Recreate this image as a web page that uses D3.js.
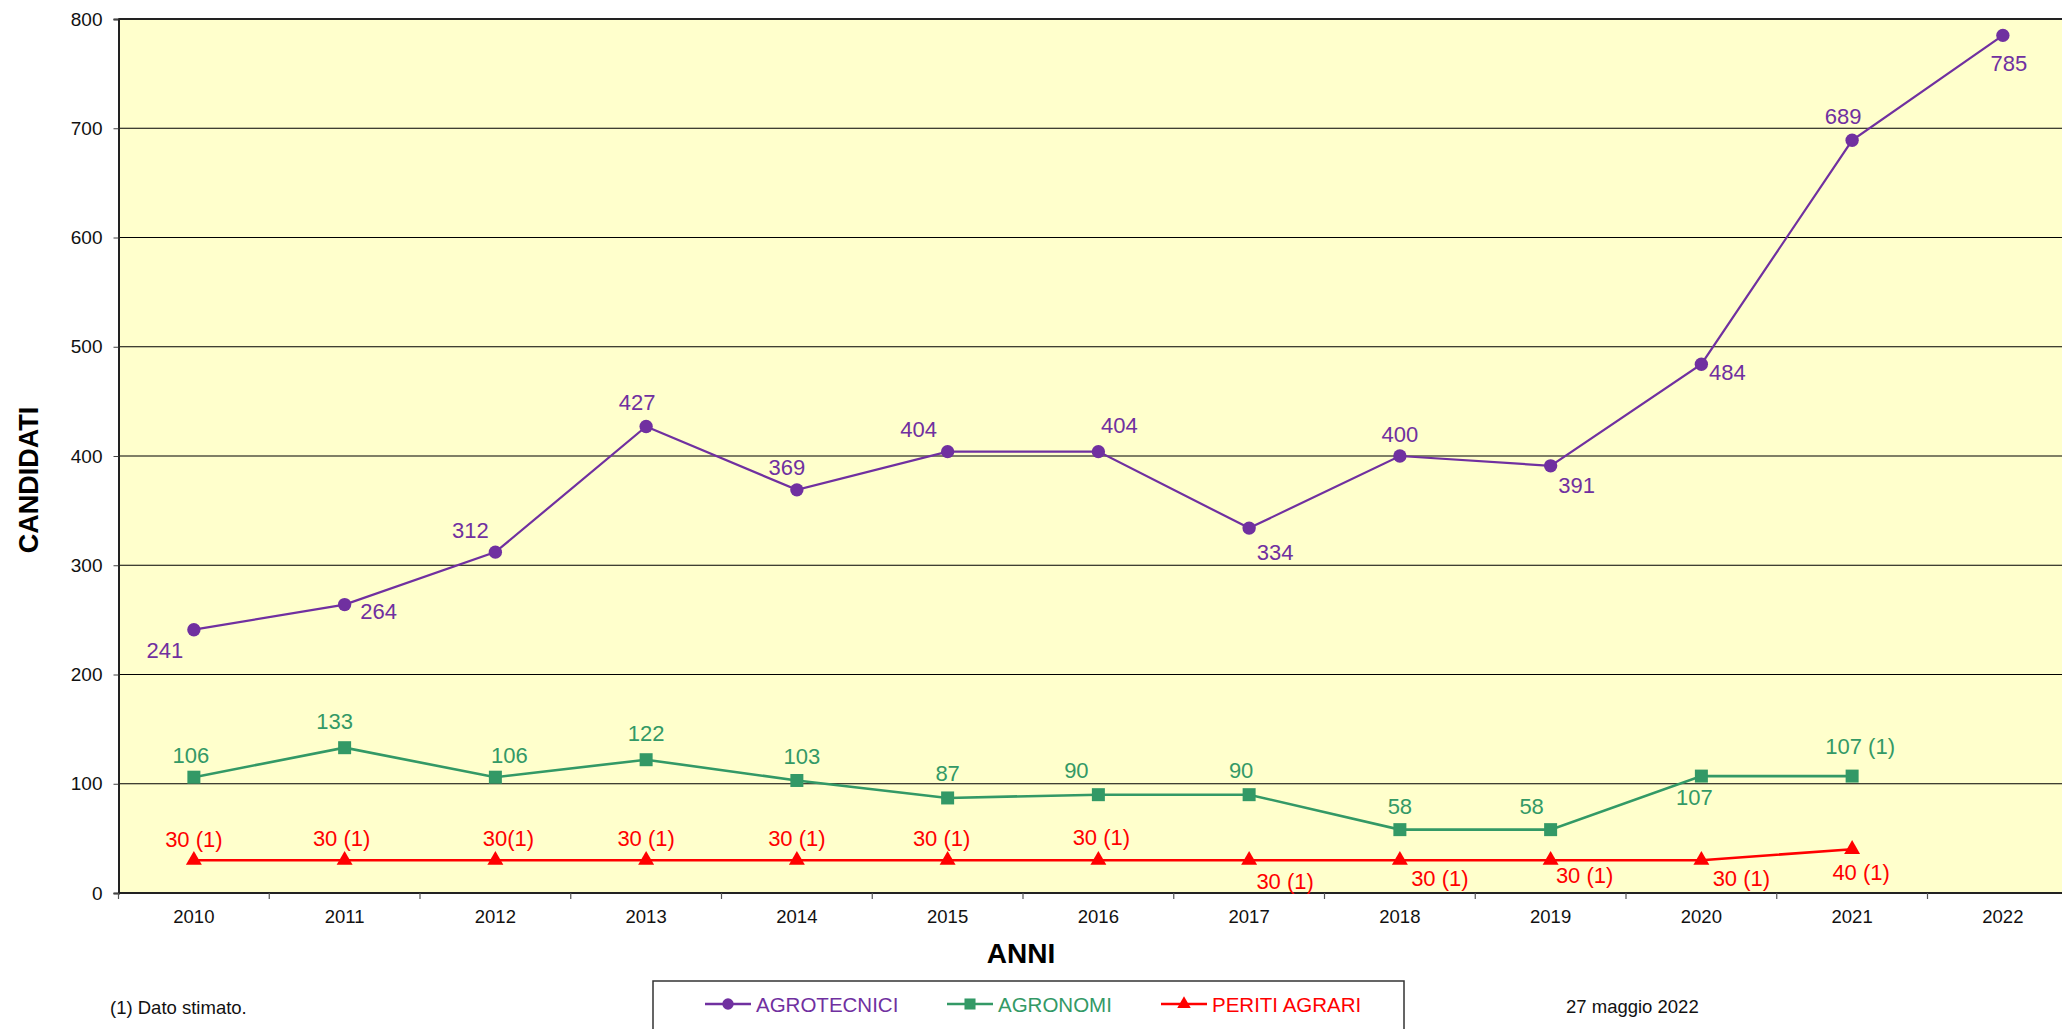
<!DOCTYPE html>
<html>
<head>
<meta charset="utf-8">
<script src="https://cdn.jsdelivr.net/npm/d3@7"></script>
<style>
  body { margin: 0; background: #fff; }
  svg { display: block; font-family: 'Liberation Sans', Arial, sans-serif; }
</style>
</head>
<body>
<div id="chart"></div>
<script>
const years = ['2010', '2011', '2012', '2013', '2014', '2015', '2016', '2017', '2018', '2019', '2020', '2021', '2022'];
const agrotecnici = [241, 264, 312, 427, 369, 404, 404, 334, 400, 391, 484, 689, 785];
const agronomi = [106, 133, 106, 122, 103, 87, 90, 90, 58, 58, 107, 107, null];
const periti = [30, 30, 30, 30, 30, 30, 30, 30, 30, 30, 30, 40, null];
const agronomiLabels = ['106', '133', '106', '122', '103', '87', '90', '90', '58', '58', '107', '107 (1)', ''];
const peritiLabels = ['30 (1)', '30 (1)', '30(1)', '30 (1)', '30 (1)', '30 (1)', '30 (1)', '30 (1)', '30 (1)', '30 (1)', '30 (1)', '40 (1)', ''];
const yTicks = [0, 100, 200, 300, 400, 500, 600, 700, 800];

// label placement relative to the marker (px)
const agroOffsets = [[-29, 21], [34, 7], [-25, -22], [-9, -24], [-10, -22], [-29, -22], [21, -26], [26, 24], [0, -22], [26, 20], [26, 8], [-9, -24], [6, 28]];
const agronOffsets = [[-3, -22], [-10, -26], [14, -22], [0, -26], [5, -24], [0, -24], [-22, -24], [-8, -24], [0, -23], [-19, -23], [-7, 21], [8, -30], [0, 0]];
const peritiOffsets = [[0, -21], [-3, -22], [13, -22], [0, -22], [0, -22], [-6, -22], [3, -23], [36, 21], [40, 18], [34, 15], [40, 18], [9, 23], [0, 0]];

const W = 2062, H = 1029;
const plot = { left: 118.5, top: 19, bottom: 893, step: 150.75 };

const svg = d3.select('#chart').append('svg')
  .attr('width', W)
  .attr('height', H);

const x = d3.scaleBand()
  .domain(years)
  .range([plot.left, plot.left + plot.step * years.length])
  .padding(0);
const y = d3.scaleLinear().domain([0, 800]).range([plot.bottom, plot.top]);
const cx = d => x(d) + x.bandwidth() / 2;

// plot background
svg.append('rect')
  .attr('x', plot.left).attr('y', plot.top)
  .attr('width', x.range()[1] - plot.left)
  .attr('height', plot.bottom - plot.top)
  .attr('fill', '#ffffcc');

// gridlines
svg.append('g')
  .selectAll('line')
  .data(yTicks.filter(t => t > 0))
  .enter().append('line')
  .attr('x1', plot.left).attr('x2', x.range()[1])
  .attr('y1', d => y(d)).attr('y2', d => y(d))
  .attr('stroke', '#000').attr('stroke-width', 1.2);

// y axis
const yAxis = svg.append('g')
  .attr('transform', `translate(${plot.left},0)`)
  .call(d3.axisLeft(y).tickValues(yTicks).tickSize(5).tickPadding(11));
yAxis.select('.domain').attr('stroke', '#222').attr('stroke-width', 2);
yAxis.selectAll('.tick line').attr('stroke', '#444');
yAxis.selectAll('text').attr('font-size', 19).attr('fill', '#111')
  .attr('font-family', "'Liberation Sans', Arial, sans-serif");

// x axis: labels centred, ticks on band edges
const xAxis = svg.append('g')
  .attr('transform', `translate(0,${plot.bottom})`)
  .call(d3.axisBottom(x).tickSize(0).tickPadding(17));
xAxis.select('.domain').remove();
xAxis.selectAll('text').attr('font-size', 18.5).attr('fill', '#111')
  .attr('font-family', "'Liberation Sans', Arial, sans-serif");

svg.append('line')
  .attr('x1', plot.left).attr('x2', x.range()[1])
  .attr('y1', plot.bottom).attr('y2', plot.bottom)
  .attr('stroke', '#222').attr('stroke-width', 2);

svg.append('g')
  .selectAll('line')
  .data(years.concat(['end']))
  .enter().append('line')
  .attr('x1', (d, i) => plot.left + i * x.step())
  .attr('x2', (d, i) => plot.left + i * x.step())
  .attr('y1', plot.bottom).attr('y2', plot.bottom + 6)
  .attr('stroke', '#555').attr('stroke-width', 1.2);

// top border
svg.append('line')
  .attr('x1', plot.left).attr('x2', x.range()[1])
  .attr('y1', plot.top).attr('y2', plot.top)
  .attr('stroke', '#222').attr('stroke-width', 2);

// axis titles
svg.append('text')
  .attr('transform', 'translate(29,480) rotate(-90)')
  .attr('text-anchor', 'middle')
  .attr('dominant-baseline', 'central')
  .attr('font-size', 27).attr('font-weight', 'bold')
  .text('CANDIDATI');

svg.append('text')
  .attr('x', 1021).attr('y', 953)
  .attr('text-anchor', 'middle')
  .attr('dominant-baseline', 'central')
  .attr('font-size', 28).attr('font-weight', 'bold')
  .text('ANNI');

const series = [
  { name: 'AGROTECNICI', values: agrotecnici, labels: agrotecnici.map(String), offsets: agroOffsets, color: '#7030a0', width: 2.2, shape: 'circle' },
  { name: 'AGRONOMI', values: agronomi, labels: agronomiLabels, offsets: agronOffsets, color: '#339966', width: 2.6, shape: 'square' },
  { name: 'PERITI AGRARI', values: periti, labels: peritiLabels, offsets: peritiOffsets, color: '#ff0000', width: 2.6, shape: 'triangle' }
];

const symbolFor = shape => {
  if (shape === 'circle') return d3.symbol(d3.symbolCircle, 140)();
  if (shape === 'square') return d3.symbol(d3.symbolSquare, 169)();
  return d3.symbol(d3.symbolTriangle, 110)();
};

const line = d3.line()
  .defined(d => d.v != null)
  .x(d => cx(d.year))
  .y(d => y(d.v));

series.forEach(s => {
  const pts = years.map((year, i) => ({ year, v: s.values[i], label: s.labels[i], off: s.offsets[i] }))
    .filter(d => d.v != null);

  const g = svg.append('g');
  g.append('path')
    .datum(pts)
    .attr('d', line)
    .attr('fill', 'none')
    .attr('stroke', s.color)
    .attr('stroke-width', s.width);

  g.selectAll('path.mark')
    .data(pts)
    .enter().append('path')
    .classed('mark', true)
    .attr('d', symbolFor(s.shape))
    .attr('transform', d => `translate(${cx(d.year)},${y(d.v)})`)
    .attr('fill', s.color);

  g.selectAll('text')
    .data(pts)
    .enter().append('text')
    .attr('x', d => cx(d.year) + d.off[0])
    .attr('y', d => y(d.v) + d.off[1])
    .attr('text-anchor', 'middle')
    .attr('dominant-baseline', 'central')
    .attr('font-size', 22)
    .attr('fill', s.color)
    .text(d => d.label);
});

// legend
const legend = svg.append('g');
legend.append('rect')
  .attr('x', 653).attr('y', 981)
  .attr('width', 751).attr('height', 70)
  .attr('fill', '#fff')
  .attr('stroke', '#333').attr('stroke-width', 1.5);

const legendX = [705, 947, 1161];
series.forEach((s, i) => {
  const lg = legend.append('g').attr('transform', `translate(${legendX[i]},1004)`);
  lg.append('line')
    .attr('x1', 0).attr('x2', 46)
    .attr('stroke', s.color).attr('stroke-width', 2.5);
  lg.append('path')
    .attr('d', symbolFor(s.shape))
    .attr('transform', 'translate(23,0) scale(0.85)')
    .attr('fill', s.color);
  lg.append('text')
    .attr('x', 51)
    .attr('dominant-baseline', 'central')
    .attr('font-size', 20.5)
    .attr('fill', s.color)
    .text(s.name);
});

// footnotes
svg.append('text')
  .attr('x', 110).attr('y', 1007)
  .attr('dominant-baseline', 'central')
  .attr('font-size', 18.5).attr('fill', '#111')
  .text('(1) Dato stimato.');

svg.append('text')
  .attr('x', 1566).attr('y', 1006)
  .attr('dominant-baseline', 'central')
  .attr('font-size', 18.5).attr('fill', '#111')
  .text('27 maggio 2022');
</script>
</body>
</html>
